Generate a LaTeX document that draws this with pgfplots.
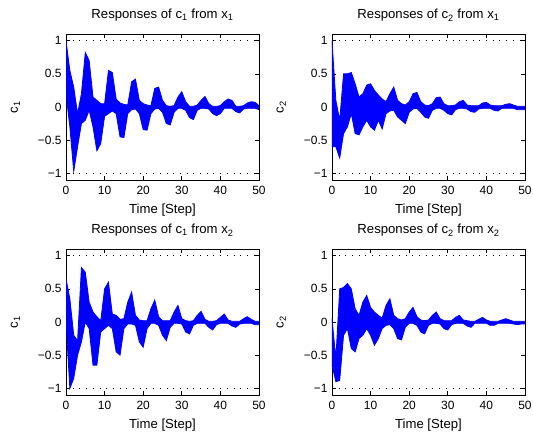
\documentclass[border=0pt]{standalone}
\usepackage{fontspec}
\setmainfont{Liberation Sans}
\usepackage{pgfplots}
\usepackage{pgfplotstable}
\pgfplotsset{compat=1.18}
\usepgfplotslibrary{groupplots,fillbetween}
\definecolor{resp}{RGB}{0,0,255}
\newcommand{\tfont}{\fontsize{12}{14}\selectfont}
\newcommand{\lfont}{\fontsize{13.2}{15}\selectfont}

% envelopes (max / min over all responses) at each step
\pgfplotstableread{
t up lo
0 1.00 0.20
1 0.55 -0.30
2 0.30 -0.97
3 -0.10 -0.60
4 0.20 -0.25
5 0.82 -0.20
6 0.70 -0.05
7 0.15 -0.30
8 0.10 -0.66
9 0.05 -0.55
10 0.05 -0.14
11 0.55 -0.10
12 0.52 -0.06
13 0.12 -0.10
14 0.06 -0.45
15 0.04 -0.46
16 0.03 -0.10
17 0.38 -0.04
18 0.42 -0.03
19 0.10 -0.10
20 0.05 -0.34
21 0.03 -0.35
22 0.02 -0.10
23 0.28 -0.03
24 0.30 -0.02
25 0.10 -0.08
26 0.02 -0.25
27 0.01 -0.27
28 0.02 -0.08
29 0.15 -0.02
30 0.23 -0.02
31 0.08 -0.05
32 0.01 -0.16
33 0.01 -0.19
34 0.03 -0.05
35 0.10 -0.02
36 0.16 -0.02
37 0.05 -0.03
38 0.01 -0.10
39 0.01 -0.13
40 0.02 -0.10
41 0.08 -0.02
42 0.12 -0.02
43 0.10 -0.02
44 0.01 -0.07
45 0.01 -0.09
46 0.02 -0.03
47 0.06 -0.02
48 0.08 -0.02
49 0.07 -0.02
50 0.02 -0.04
}\tA
\pgfplotstableread{
t up lo
0 1.00 -0.60
1 0.10 -0.60
2 -0.20 -0.77
3 0.50 -0.40
4 0.50 -0.30
5 0.52 -0.10
6 0.35 -0.40
7 0.15 -0.42
8 0.20 -0.30
9 0.33 -0.20
10 0.35 -0.30
11 0.25 -0.35
12 0.18 -0.20
13 0.12 -0.33
14 0.08 -0.10
15 0.20 -0.06
16 0.30 -0.05
17 0.10 -0.15
18 0.05 -0.20
19 0.03 -0.25
20 0.08 -0.08
21 0.20 -0.03
22 0.22 -0.02
23 0.08 -0.08
24 0.03 -0.15
25 0.02 -0.17
26 0.05 -0.05
27 0.14 -0.02
28 0.15 -0.02
29 0.05 -0.05
30 0.02 -0.10
31 0.02 -0.12
32 0.03 -0.04
33 0.08 -0.02
34 0.10 -0.02
35 0.03 -0.03
36 0.02 -0.07
37 0.02 -0.08
38 0.02 -0.03
39 0.06 -0.02
40 0.07 -0.02
41 0.03 -0.02
42 0.02 -0.05
43 0.02 -0.06
44 0.02 -0.02
45 0.04 -0.02
46 0.05 -0.02
47 0.03 -0.02
48 0.01 -0.04
49 0.01 -0.04
50 0.01 -0.04
}\tB
\pgfplotstableread{
t up lo
0 0.65 0.00
1 0.35 -1.00
2 -0.20 -0.85
3 -0.28 -0.50
4 0.82 -0.30
5 0.75 0.00
6 0.30 -0.10
7 0.15 -0.65
8 0.08 -0.65
9 0.02 -0.15
10 0.50 -0.10
11 0.60 -0.05
12 0.12 -0.10
13 0.10 -0.45
14 0.04 -0.50
15 0.05 -0.10
16 0.30 -0.03
17 0.45 -0.03
18 0.10 -0.05
19 0.03 -0.30
20 0.02 -0.38
21 0.02 -0.10
22 0.20 -0.02
23 0.33 -0.02
24 0.08 -0.05
25 0.02 -0.20
26 0.02 -0.28
27 0.02 -0.08
28 0.15 -0.02
29 0.25 -0.02
30 0.05 -0.03
31 0.02 -0.15
32 0.01 -0.18
33 0.02 -0.05
34 0.10 -0.02
35 0.16 -0.02
36 0.04 -0.02
37 0.01 -0.08
38 0.01 -0.12
39 0.02 -0.04
40 0.07 -0.02
41 0.12 -0.02
42 0.03 -0.02
43 0.01 -0.06
44 0.01 -0.08
45 0.01 -0.03
46 0.05 -0.02
47 0.08 -0.02
48 0.04 -0.02
49 0.01 -0.04
50 0.01 -0.04
}\tC
\pgfplotstableread{
t up lo
0 0.05 -0.65
1 -0.55 -0.90
2 0.50 -0.88
3 0.52 -0.20
4 0.58 -0.10
5 0.50 -0.40
6 0.20 -0.45
7 0.10 -0.25
8 0.30 -0.20
9 0.40 -0.10
10 0.22 -0.20
11 0.15 -0.35
12 0.10 -0.25
13 0.06 -0.10
14 0.25 -0.05
15 0.35 -0.04
16 0.10 -0.10
17 0.05 -0.25
18 0.03 -0.27
19 0.05 -0.08
20 0.15 -0.02
21 0.22 -0.02
22 0.08 -0.05
23 0.03 -0.15
24 0.02 -0.18
25 0.03 -0.05
26 0.10 -0.02
27 0.15 -0.02
28 0.05 -0.03
29 0.02 -0.10
30 0.02 -0.12
31 0.02 -0.04
32 0.07 -0.02
33 0.10 -0.02
34 0.03 -0.02
35 0.02 -0.06
36 0.01 -0.08
37 0.01 -0.02
38 0.04 -0.02
39 0.07 -0.02
40 0.03 -0.02
41 0.01 -0.05
42 0.01 -0.05
43 0.01 -0.02
44 0.03 -0.02
45 0.05 -0.02
46 0.03 -0.02
47 0.01 -0.03
48 0.01 -0.04
49 0.01 -0.03
50 0.01 -0.03
}\tD

\newcommand{\band}[1]{%
  \addplot[resp,line width=0.8bp,name path=u] table[x=t,y=up]{#1};
  \addplot[resp,line width=0.8bp,name path=l] table[x=t,y=lo]{#1};
  \addplot[resp] fill between[of=u and l];
  \addplot[black,line width=0.7bp,dash pattern=on 0.7bp off 6bp] coordinates {(0,1) (50,1)};
  \addplot[black,line width=0.7bp,dash pattern=on 0.7bp off 6bp] coordinates {(0,-1) (50,-1)};
}

\begin{document}
\begin{tikzpicture}
\begin{groupplot}[group style={group size=2 by 2,horizontal sep=73bp,vertical sep=69bp},
  width=193bp,height=146bp,scale only axis,
  xmin=0,xmax=50,ymin=-1.1,ymax=1.1,
  xtick={0,10,20,30,40,50},ytick={-1,-0.5,0,0.5,1},
  yticklabels={−1,−0.5,0,0.5,1},
  xticklabel style={/pgf/number format/assume math mode=true,yshift=-2.5bp},
  yticklabel style={xshift=-1bp},
  tick label style={font=\tfont},
  label style={font=\lfont},
  title style={font=\lfont,yshift=3bp},
  xlabel style={yshift=-3bp},
  ylabel style={yshift=11bp},
  tick align=inside,xtick pos=both,ytick pos=both,ticklabel pos=left,
  major tick length=4bp,axis line style={line width=0.7bp},
  every tick/.style={black,line width=0.6bp},
  xlabel={Time [Step]},
  clip=true]
\nextgroupplot[title={Responses of c\textsubscript{1} from x\textsubscript{1}},ylabel={c\textsubscript{1}}]
\band{\tA}
\nextgroupplot[title={Responses of c\textsubscript{2} from x\textsubscript{1}},ylabel={c\textsubscript{2}}]
\band{\tB}
\nextgroupplot[title={Responses of c\textsubscript{1} from x\textsubscript{2}},ylabel={c\textsubscript{1}}]
\band{\tC}
\nextgroupplot[title={Responses of c\textsubscript{2} from x\textsubscript{2}},ylabel={c\textsubscript{2}}]
\band{\tD}
\end{groupplot}
\pgfresetboundingbox
\path ([shift={(-66bp,34bp)}]group c1r1.north west) rectangle ([shift={(467bp,-403bp)}]group c1r1.north west);
\end{tikzpicture}
\end{document}
